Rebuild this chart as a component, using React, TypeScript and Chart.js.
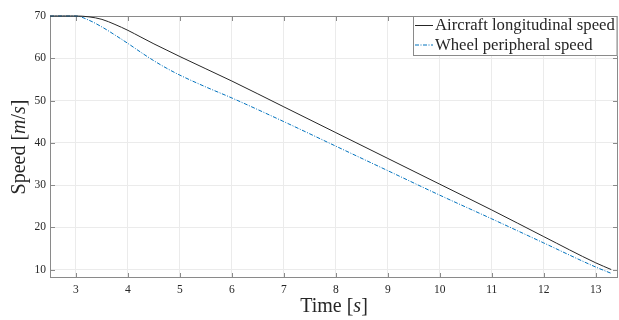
import React, { useEffect, useRef } from "react";
import { Chart, registerables } from "chart.js";

Chart.register(...registerables);

const timeValues = [2.5, 2.75, 3.0, 3.25, 3.5, 3.75, 4.0, 4.25, 4.5, 4.75, 5.0, 5.5, 6.0, 7.0, 8.0, 9.0, 10.0, 11.0, 12.0, 13.0, 13.3];
const aircraftSpeed = [70, 70, 70, 69.8, 69.2, 68.0, 66.6, 65.0, 63.4, 61.9, 60.4, 57.5, 54.6, 48.5, 42.4, 36.3, 30.2, 24.1, 17.8, 11.6, 10.0];
const wheelSpeed = [70, 70, 70, 69.0, 67.4, 65.5, 63.5, 61.4, 59.4, 57.6, 56.0, 53.2, 50.6, 45.0, 39.2, 33.4, 27.6, 22.0, 16.3, 10.6, 9.1];
const xTickValues = [3, 4, 5, 6, 7, 8, 9, 10, 11, 12, 13];
const yTickValues = [10, 20, 30, 40, 50, 60, 70];
const seriesNames = ["Aircraft longitudinal speed", "Wheel peripheral speed"];

const SERIF = '"Liberation Serif", "DejaVu Serif", serif';
const AXIS_COLOR = "#8a8a8a";
const TEXT_COLOR = "#262626";
const BLACK_LINE = "#262626";
const BLUE_LINE = "#0072BD";

const decorPlugin = {
  id: "matlabDecor",
  beforeDatasetsDraw(chart: any) {
    const ctx = chart.ctx as CanvasRenderingContext2D;
    const { left, right, top, bottom } = chart.chartArea;
    const xs = chart.scales.x;
    const ys = chart.scales.y;
    ctx.save();
    ctx.strokeStyle = AXIS_COLOR;
    ctx.lineWidth = 1;
    ctx.strokeRect(Math.round(left) + 0.5, Math.round(top) + 0.5, Math.round(right - left) - 1, Math.round(bottom - top) - 1);
    const tl = 5;
    ctx.beginPath();
    xTickValues.forEach((v) => {
      const px = Math.round(xs.getPixelForValue(v)) + 0.5;
      ctx.moveTo(px, bottom);
      ctx.lineTo(px, bottom - tl);
      ctx.moveTo(px, top);
      ctx.lineTo(px, top + tl);
    });
    yTickValues.forEach((v) => {
      const py = Math.round(ys.getPixelForValue(v)) + 0.5;
      ctx.moveTo(left, py);
      ctx.lineTo(left + tl, py);
      ctx.moveTo(right, py);
      ctx.lineTo(right - tl, py);
    });
    ctx.stroke();
    ctx.restore();
  },
  afterDatasetsDraw(chart: any) {
    const ctx = chart.ctx as CanvasRenderingContext2D;
    const { left, right, top, bottom } = chart.chartArea;
    ctx.save();
    const lx = 413, ly = 16, lw = right - 413 - 0.5, lh = 40;
    ctx.fillStyle = "#ffffff";
    ctx.fillRect(lx, ly, lw, lh);
    ctx.strokeStyle = AXIS_COLOR;
    ctx.lineWidth = 1;
    ctx.strokeRect(lx + 0.5, ly + 0.5, lw - 1, lh - 1);
    const rows = [
      { y: 25.5, color: BLACK_LINE, dash: [] as number[] },
      { y: 45, color: BLUE_LINE, dash: [4, 1.5, 1, 1.5] },
    ];
    rows.forEach((r, i) => {
      ctx.beginPath();
      ctx.setLineDash(r.dash);
      ctx.strokeStyle = r.color;
      ctx.lineWidth = 1;
      ctx.moveTo(415, r.y);
      ctx.lineTo(433, r.y);
      ctx.stroke();
      ctx.setLineDash([]);
      ctx.fillStyle = TEXT_COLOR;
      ctx.font = `16.7px ${SERIF}`;
      ctx.textAlign = "left";
      ctx.textBaseline = "middle";
      ctx.fillText(seriesNames[i], 435, r.y + 0.5);
    });

    const drawMixed = (parts: { t: string; italic: boolean }[], cx: number, cy: number) => {
      const widths = parts.map((p) => {
        ctx.font = `${p.italic ? "italic " : ""}20px ${SERIF}`;
        return ctx.measureText(p.t).width;
      });
      const total = widths.reduce((a, b) => a + b, 0);
      let x = cx - total / 2;
      ctx.textAlign = "left";
      ctx.textBaseline = "middle";
      ctx.fillStyle = TEXT_COLOR;
      parts.forEach((p, i) => {
        ctx.font = `${p.italic ? "italic " : ""}20px ${SERIF}`;
        ctx.fillText(p.t, x, cy);
        x += widths[i];
      });
    };
    drawMixed(
      [
        { t: "Time [", italic: false },
        { t: "s", italic: true },
        { t: "]", italic: false },
      ],
      (left + right) / 2,
      307
    );
    ctx.save();
    ctx.translate(20, (top + bottom) / 2);
    ctx.rotate(-Math.PI / 2);
    drawMixed(
      [
        { t: "Speed [", italic: false },
        { t: "m", italic: true },
        { t: "/", italic: false },
        { t: "s", italic: true },
        { t: "]", italic: false },
      ],
      0,
      0
    );
    ctx.restore();
    ctx.restore();
  },
};

export default function App() {
  const canvasRef = useRef<HTMLCanvasElement | null>(null);

  useEffect(() => {
    document.body.style.margin = "0";
    const canvas = canvasRef.current;
    if (!canvas) return;
    const chart = new Chart(canvas, {
      type: "line",
      data: {
        datasets: [
          {
            label: seriesNames[0],
            data: timeValues.map((t, i) => ({ x: t, y: aircraftSpeed[i] })),
            borderColor: BLACK_LINE,
            borderWidth: 1,
            pointRadius: 0,
            cubicInterpolationMode: "monotone",
            fill: false,
            clip: 2,
          },
          {
            label: seriesNames[1],
            data: timeValues.map((t, i) => ({ x: t, y: wheelSpeed[i] })),
            borderColor: BLUE_LINE,
            borderWidth: 1,
            borderDash: [4, 1.5, 1, 1.5],
            pointRadius: 0,
            cubicInterpolationMode: "monotone",
            fill: false,
            clip: 2,
          },
        ],
      },
      options: {
        animation: false,
        responsive: false,
        devicePixelRatio: 1,
        layout: { padding: { top: 16, right: 1, left: 0, bottom: 0 } },
        plugins: {
          legend: { display: false },
          tooltip: { enabled: false },
        },
        scales: {
          x: {
            type: "linear",
            min: 2.5,
            max: 13.43,
            afterBuildTicks: (scale: any) => {
              scale.ticks = xTickValues.map((v) => ({ value: v }));
            },
            afterFit: (scale: any) => {
              scale.height = 42;
            },
            grid: { color: "#ebebeb", drawTicks: false, lineWidth: 1 },
            border: { display: false },
            ticks: {
              padding: 5,
              color: TEXT_COLOR,
              font: { family: SERIF, size: 11.5 },
              autoSkip: false,
              maxRotation: 0,
              callback: (v: any) => String(v),
            },
          },
          y: {
            type: "linear",
            min: 8,
            max: 70,
            afterBuildTicks: (scale: any) => {
              scale.ticks = yTickValues.map((v) => ({ value: v }));
            },
            afterFit: (scale: any) => {
              scale.width = 50;
            },
            grid: { color: "#ebebeb", drawTicks: false, lineWidth: 1 },
            border: { display: false },
            ticks: {
              padding: 4,
              color: TEXT_COLOR,
              font: { family: SERIF, size: 11.5 },
              autoSkip: false,
              callback: (v: any) => String(v),
            },
          },
        },
      },
      plugins: [decorPlugin],
    } as any);
    return () => chart.destroy();
  }, []);

  return (
    <div style={{ position: "fixed", left: 0, top: 0, width: 619, height: 320 }}>
      <canvas ref={canvasRef} width={619} height={320} style={{ width: 619, height: 320 }} />
    </div>
  );
}
